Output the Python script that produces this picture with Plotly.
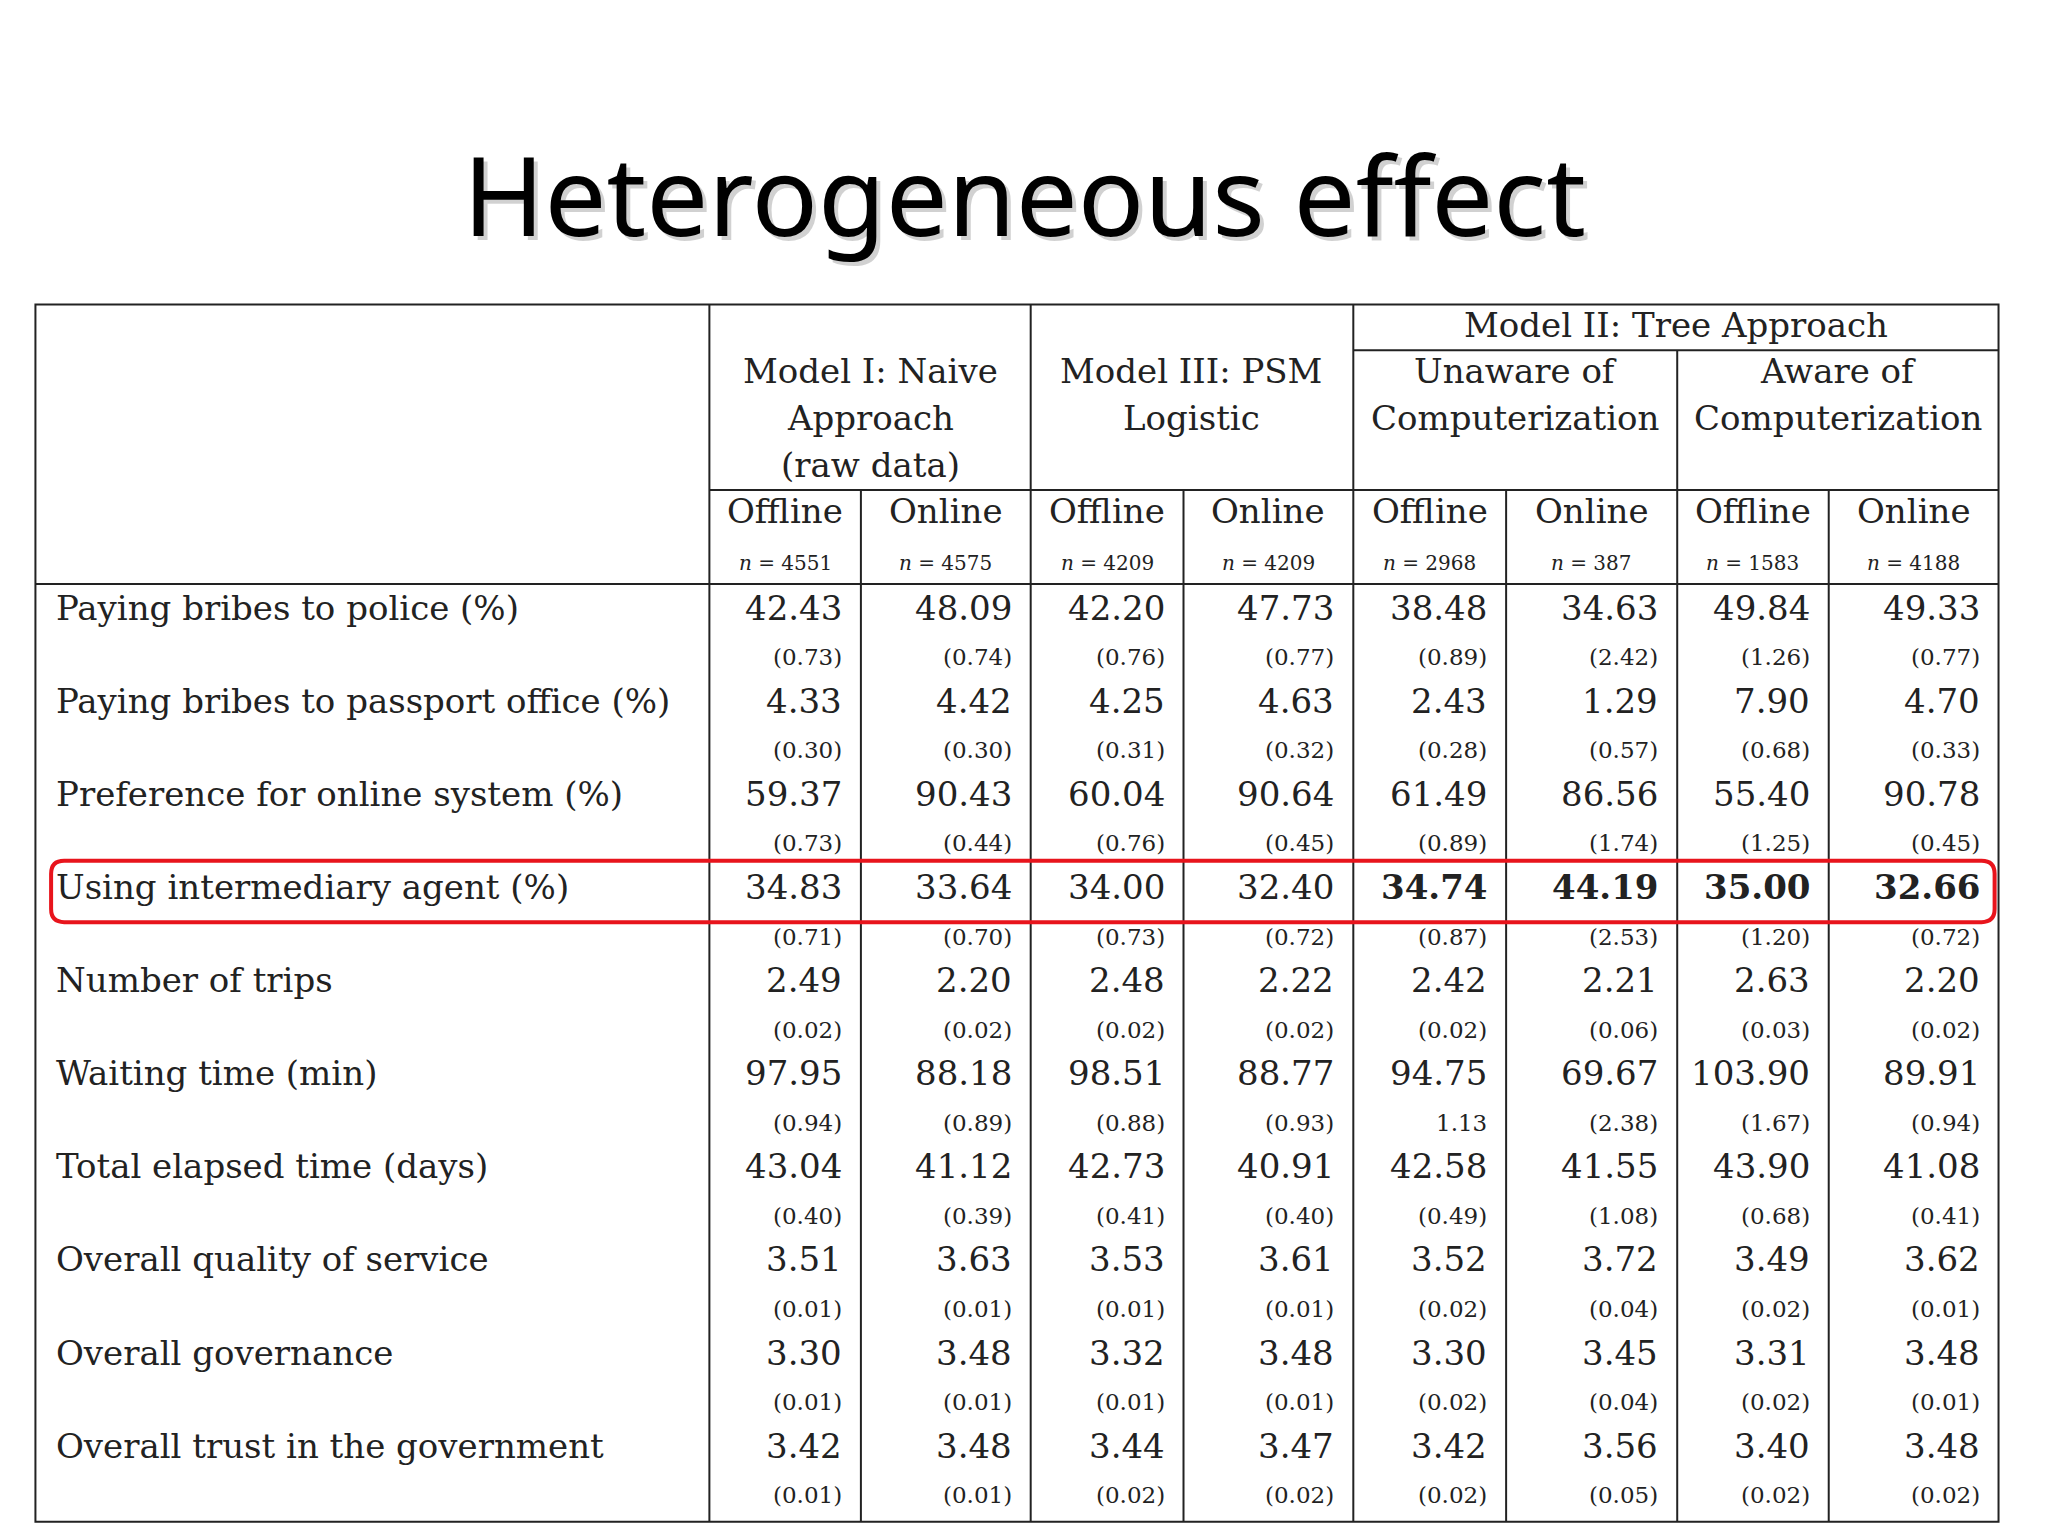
import plotly.graph_objects as go

S = 2048 / 1568  # layout measured on a 1568-wide grid
OFF = -6  # small global shift in measured units

rows = ["Paying bribes to police (%)", "Paying bribes to passport office (%)",
        "Preference for online system (%)", "Using intermediary agent (%)",
        "Number of trips", "Waiting time (min)", "Total elapsed time (days)",
        "Overall quality of service", "Overall governance", "Overall trust in the government"]
sub_cols = ["Offline", "Online"] * 4
n_obs = ["4551", "4575", "4209", "4209", "2968", "387", "1583", "4188"]
values = [
    ["42.43", "48.09", "42.20", "47.73", "38.48", "34.63", "49.84", "49.33"],
    ["4.33", "4.42", "4.25", "4.63", "2.43", "1.29", "7.90", "4.70"],
    ["59.37", "90.43", "60.04", "90.64", "61.49", "86.56", "55.40", "90.78"],
    ["34.83", "33.64", "34.00", "32.40", "34.74", "44.19", "35.00", "32.66"],
    ["2.49", "2.20", "2.48", "2.22", "2.42", "2.21", "2.63", "2.20"],
    ["97.95", "88.18", "98.51", "88.77", "94.75", "69.67", "103.90", "89.91"],
    ["43.04", "41.12", "42.73", "40.91", "42.58", "41.55", "43.90", "41.08"],
    ["3.51", "3.63", "3.53", "3.61", "3.52", "3.72", "3.49", "3.62"],
    ["3.30", "3.48", "3.32", "3.48", "3.30", "3.45", "3.31", "3.48"],
    ["3.42", "3.48", "3.44", "3.47", "3.42", "3.56", "3.40", "3.48"],
]
std_err = [
    ["(0.73)", "(0.74)", "(0.76)", "(0.77)", "(0.89)", "(2.42)", "(1.26)", "(0.77)"],
    ["(0.30)", "(0.30)", "(0.31)", "(0.32)", "(0.28)", "(0.57)", "(0.68)", "(0.33)"],
    ["(0.73)", "(0.44)", "(0.76)", "(0.45)", "(0.89)", "(1.74)", "(1.25)", "(0.45)"],
    ["(0.71)", "(0.70)", "(0.73)", "(0.72)", "(0.87)", "(2.53)", "(1.20)", "(0.72)"],
    ["(0.02)", "(0.02)", "(0.02)", "(0.02)", "(0.02)", "(0.06)", "(0.03)", "(0.02)"],
    ["(0.94)", "(0.89)", "(0.88)", "(0.93)", "1.13", "(2.38)", "(1.67)", "(0.94)"],
    ["(0.40)", "(0.39)", "(0.41)", "(0.40)", "(0.49)", "(1.08)", "(0.68)", "(0.41)"],
    ["(0.01)", "(0.01)", "(0.01)", "(0.01)", "(0.02)", "(0.04)", "(0.02)", "(0.01)"],
    ["(0.01)", "(0.01)", "(0.01)", "(0.01)", "(0.02)", "(0.04)", "(0.02)", "(0.01)"],
    ["(0.01)", "(0.01)", "(0.02)", "(0.02)", "(0.02)", "(0.05)", "(0.02)", "(0.02)"],
]
highlight_row = 3

SERIF = "DejaVu Serif"
col_edges = [543, 659, 789, 906, 1036, 1153, 1284, 1400, 1530]
left, right, top, bottom = 27, 1530, 233, 1165
row_y0, row_step = 465, 71.3

fig = go.Figure()
ann = []
shapes = []


def P(v):
    return (v + OFF) * S


def line(x0, y0, x1, y1, w=2, color="#222"):
    shapes.append(dict(type="line", x0=P(x0), y0=P(y0), x1=P(x1), y1=P(y1),
                       line=dict(color=color, width=w)))


def text(x, y, t, size, anchor="center", bold=False, font=SERIF, color="#222"):
    if bold:
        t = "<b>" + t + "</b>"
    ann.append(dict(x=P(x), y=P(y), text=t, showarrow=False, xanchor=anchor, yanchor="middle",
                    font=dict(family=font, size=size, color=color)))


# frame and grid
shapes.append(dict(type="rect", x0=P(left), y0=P(top), x1=P(right), y1=P(bottom),
                   line=dict(color="#222", width=2)))
for x in [543, 789, 1036]:
    line(x, top, x, bottom)
line(1284, 268, 1284, bottom)
for x in [659, 906, 1153, 1400]:
    line(x, 375, x, bottom)
line(1036, 268, right, 268)
line(543, 375, right, 375)
line(left, 447, right, 447)

# headers
text(1283, 249, "Model II: Tree Approach", 34)
for cx, lines in [(666, ["Model I: Naive", "Approach", "(raw data)"]),
                  (912, ["Model III: PSM", "Logistic"]),
                  (1160, ["Unaware of", "Computerization"]),
                  (1407, ["Aware of", "Computerization"])]:
    for i, t in enumerate(lines):
        text(cx, 284 + 36 * i, t, 34)
for j in range(8):
    cx = (col_edges[j] + col_edges[j + 1]) / 2
    text(cx, 391, sub_cols[j], 34)
    text(cx, 431, "<i>n</i> = " + n_obs[j], 20)

# body
for i, name in enumerate(rows):
    y = row_y0 + row_step * i
    text(41, y, name, 34, anchor="left")
    for j in range(8):
        xr = col_edges[j + 1] - 13
        text(xr, y, values[i][j], 34, anchor="right", bold=(i == highlight_row and j >= 4))
        text(xr, y + 38, std_err[i][j], 23, anchor="right")

# highlight box
hy = row_y0 + row_step * highlight_row
pts = [49, hy - 20, 1517, hy - 20, 1527, hy - 20, 1527, hy - 10,
       1527, hy + 17, 1527, hy + 27, 1517, hy + 27,
       49, hy + 27, 39, hy + 27, 39, hy + 17,
       39, hy - 10, 39, hy - 20, 49, hy - 20]
shapes.append(dict(type="path", line=dict(color="#e8141c", width=4),
                   path="M %f %f L %f %f Q %f %f %f %f L %f %f Q %f %f %f %f L %f %f Q %f %f %f %f L %f %f Q %f %f %f %f Z"
                   % tuple(P(v) for v in pts)))

# title with soft shadow
ann.append(dict(x=P(787), y=P(151), text="Heterogeneous effect", showarrow=False,
                font=dict(family="Noto Sans", size=110, color="rgba(0,0,0,0.18)")))
text(784, 148, "Heterogeneous effect", 110, font="Noto Sans", color="#000")

fig.update_layout(width=2048, height=1536, margin=dict(l=0, r=0, t=0, b=0),
                  paper_bgcolor="white", plot_bgcolor="white",
                  xaxis=dict(range=[0, 2048], visible=False, fixedrange=True),
                  yaxis=dict(range=[1536, 0], visible=False, fixedrange=True),
                  shapes=shapes, annotations=ann, showlegend=False)
fig.write_html("out.html")
